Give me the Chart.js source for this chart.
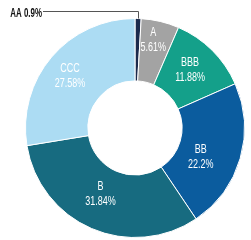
<!DOCTYPE html>
<html><head><meta charset="utf-8">
<script src="https://cdn.jsdelivr.net/npm/chart.js@4/dist/chart.umd.min.js"></script>
<style>html,body{margin:0;padding:0;background:#fff;}canvas{display:block;}</style>
</head><body>
<canvas id="c" width="251" height="240"></canvas>
<script>
const categories = ["AA", "A", "BBB", "BB", "B", "CCC"];
const shares = [0.9, 5.61, 11.88, 22.2, 31.84, 27.58];
const sliceColors = ["#1b2a4c", "#a3a3a3", "#14a08a", "#0b5c9e", "#176b80", "#acdcf3"];

// label placement style (angle nudge in degrees, radius in px from centre)
const LABEL_STYLE = [null, {da: -1.7, r: 90}, {da: -1.3, r: 80}, {da: 7.7, r: 72}, {da: 4, r: 75}, {da: -2, r: 83}];
const FONT = "'Liberation Sans', Arial, sans-serif";

function narrowText(ctx, text, x, y, sx) {
  ctx.save();
  ctx.translate(x, y);
  ctx.scale(sx, 1);
  ctx.fillText(text, 0, 0);
  ctx.restore();
}

const labelPlugin = {
  id: 'sliceLabels',
  afterDatasetsDraw(chart) {
    const ctx = chart.ctx;
    const meta = chart.getDatasetMeta(0);
    meta.data.forEach((arc, i) => {
      const p = arc.getProps(['x','y','startAngle','endAngle','innerRadius','outerRadius'], true);
      const mid = (p.startAngle + p.endAngle) / 2;
      if (i === 0) {
        const ox = p.x + Math.cos(mid) * p.outerRadius;
        const oy = p.y + Math.sin(mid) * p.outerRadius;
        ctx.save();
        ctx.strokeStyle = '#555';
        ctx.lineWidth = 1;
        ctx.beginPath();
        ctx.moveTo(Math.round(ox) + 0.5, oy);
        ctx.lineTo(Math.round(ox) + 0.5, 11.5);
        ctx.lineTo(43, 11.5);
        ctx.stroke();
        ctx.fillStyle = '#111';
        ctx.font = "bold 12px " + FONT;
        ctx.textAlign = 'right';
        ctx.textBaseline = 'middle';
        narrowText(ctx, categories[i] + ' ' + shares[i] + '%', 42, 14, 0.66);
        ctx.restore();
        return;
      }
      const s = LABEL_STYLE[i];
      const ang = mid + s.da * Math.PI / 180;
      const x = p.x + Math.cos(ang) * s.r;
      const y = p.y + Math.sin(ang) * s.r;
      ctx.save();
      ctx.fillStyle = '#fff';
      ctx.font = "12px " + FONT;
      ctx.textAlign = 'center';
      ctx.textBaseline = 'middle';
      narrowText(ctx, categories[i], x, y - 7.5, 0.75);
      narrowText(ctx, shares[i] + '%', x, y + 7.5, 0.75);
      ctx.restore();
    });
  }
};

new Chart(document.getElementById('c'), {
  type: 'doughnut',
  data: {
    labels: categories,
    datasets: [{
      data: shares,
      backgroundColor: sliceColors,
      borderColor: '#ffffff',
      borderWidth: 1
    }]
  },
  options: {
    responsive: false,
    animation: false,
    cutout: '43%',
    layout: { padding: { left: 25, right: 6, top: 18, bottom: 2 } },
    plugins: { legend: { display: false }, tooltip: { enabled: false }, title: { display: false } }
  },
  plugins: [labelPlugin]
});
</script>
</body></html>
